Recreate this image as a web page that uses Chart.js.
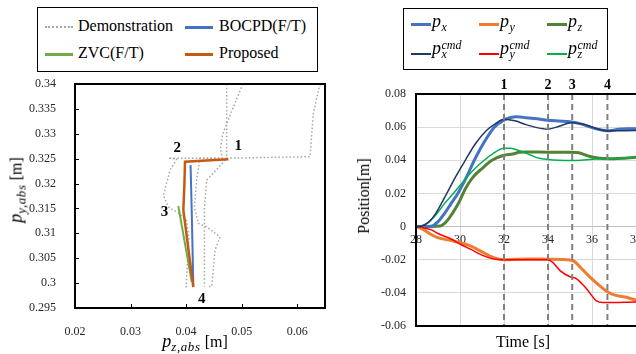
<!DOCTYPE html>
<html><head><meta charset="utf-8">
<script src="https://cdn.jsdelivr.net/npm/chart.js@4.4.1/dist/chart.umd.min.js"></script>
<style>
html,body{margin:0;padding:0;background:#fff;width:636px;height:354px;overflow:hidden;position:relative;font-family:"Liberation Serif","Times New Roman",serif;color:#000}
canvas{position:absolute;top:0}
#cL{left:0}
#cR{left:330px}
.box{position:absolute;border:1.5px solid #000;box-sizing:border-box;background:#fff}
.ln{position:absolute;height:0}
.tx{position:absolute;white-space:nowrap;font-size:16px;line-height:18px}
.it{position:absolute;height:20px;width:40px}
.it .p{position:absolute;left:0;top:0;font-style:italic;font-size:18px;line-height:20px}
.it .sb,.it .sp{position:absolute;left:9.5px;font-style:italic;font-size:12px;line-height:12px;white-space:nowrap}
.it .sb{top:10px}
.it .sp{top:1px}
.ttl{position:absolute;white-space:nowrap;font-size:16px;line-height:20px;transform:translate(-50%,-50%)}
.ttl.rot{transform:translate(-50%,-50%) rotate(-90deg)}
.ttl i{font-size:18px}
.ttl sub{font-style:italic;font-size:13px;letter-spacing:0.6px;vertical-align:-4px;line-height:0}
</style></head>
<body>
<canvas id="cL" width="330" height="354"></canvas>
<canvas id="cR" width="370" height="354"></canvas>
<div id="overlay"></div>
<script>
// ================= LEFT CHART DATA (p_z,abs vs p_y,abs) =================
const demoA_z = [0.0473, 0.0473, 0.0473, 0.0368, 0.0383, 0.0371, 0.0359, 0.0368, 0.0388, 0.0401, 0.0405, 0.0400, 0.0406];
const demoA_y = [0.3400, 0.3330, 0.3251, 0.3251, 0.3249, 0.3227, 0.3176, 0.3153, 0.3140, 0.3125, 0.3090, 0.2993, 0.2993];
const demoB_z = [0.0502, 0.0482, 0.0466, 0.0462, 0.0465, 0.0425, 0.0419, 0.0415, 0.0422, 0.0437, 0.0461, 0.0452, 0.0446, 0.0441];
const demoB_y = [0.3400, 0.3345, 0.3300, 0.3270, 0.3251, 0.3251, 0.3207, 0.3153, 0.3120, 0.3113, 0.3093, 0.3066, 0.2993, 0.2993];
const demoC_z = [0.0641, 0.0629, 0.0623, 0.0473, 0.0454, 0.0437, 0.0433, 0.0433, 0.0433];
const demoC_y = [0.3400, 0.3341, 0.3254, 0.3251, 0.3227, 0.3207, 0.3150, 0.3117, 0.2993];
const bocpd_z = [0.0408, 0.0410, 0.0413];
const bocpd_y = [0.3237, 0.3150, 0.2995];
const zvc_z = [0.0386, 0.0410];
const zvc_y = [0.3155, 0.3003];
const prop_z = [0.0476, 0.0398, 0.0397, 0.0395, 0.0413];
const prop_y = [0.3249, 0.3244, 0.3200, 0.3147, 0.2992];
const leftXTicks = [0.02, 0.03, 0.04, 0.05, 0.06];
const leftYTicks = [0.295, 0.3, 0.305, 0.31, 0.315, 0.32, 0.325, 0.33, 0.335, 0.34];
const phaseLabels = ['1', '2', '3', '4'];
const phaseZ = [0.0494, 0.0384, 0.0361, 0.0428];
const phaseY = [0.3275, 0.3271, 0.3142, 0.2968];
const leftNames = ['Demonstration', 'BOCPD(F/T)', 'ZVC(F/T)', 'Proposed'];

// ================= RIGHT CHART DATA (Position vs Time) =================
const pxT = [28, 28.7, 29.0, 29.3, 29.6, 29.9, 30.3, 30.65, 31.1, 31.56, 32, 32.3, 32.6, 33, 33.5, 34, 34.5, 35, 35.5, 36, 36.5, 36.8, 37.2, 37.6, 38, 39, 40];
const pxV = [0, 0.0002, 0.003, 0.008, 0.014, 0.020, 0.030, 0.040, 0.051, 0.060, 0.0643, 0.0658, 0.0662, 0.0657, 0.065, 0.0642, 0.0637, 0.0632, 0.062, 0.0597, 0.0581, 0.0578, 0.0587, 0.059, 0.059, 0.0588, 0.0588];
const pyT = [28, 28.3, 28.65, 28.95, 29.5, 30.0, 30.5, 30.9, 31.5, 32, 33, 34, 35, 35.2, 35.5, 35.92, 36.3, 36.68, 37.0, 37.6, 38, 39, 40];
const pyV = [0, -0.0015, -0.0045, -0.0065, -0.0082, -0.0097, -0.0118, -0.0145, -0.0186, -0.020, -0.0195, -0.0197, -0.0202, -0.0210, -0.0250, -0.0307, -0.0352, -0.0392, -0.0412, -0.0428, -0.0444, -0.0460, -0.0460];
const pzT = [28, 29.1, 29.3, 29.5, 29.8, 30.0, 30.25, 30.6, 31.0, 31.45, 32, 32.4, 32.7, 33, 34, 35, 35.4, 35.7, 36, 36.5, 37, 37.5, 38, 39, 40];
const pzV = [0, 0.0003, 0.002, 0.005, 0.011, 0.016, 0.023, 0.030, 0.035, 0.040, 0.043, 0.0438, 0.0448, 0.045, 0.0449, 0.0448, 0.0445, 0.0432, 0.042, 0.0411, 0.041, 0.0413, 0.0418, 0.042, 0.042];
const pxCmdT = [28, 28.3, 28.6, 28.9, 29.2, 29.4, 29.8, 30.24, 30.7, 31.2, 31.6, 32, 32.5, 33, 33.5, 34, 34.5, 35.05, 35.6, 36.2, 36.7, 37.2, 38, 39, 40];
const pxCmdV = [0, 0.0005, 0.003, 0.008, 0.015, 0.020, 0.030, 0.040, 0.050, 0.058, 0.062, 0.0648, 0.0638, 0.0615, 0.0597, 0.0588, 0.0605, 0.0627, 0.0618, 0.0592, 0.0577, 0.0578, 0.058, 0.058, 0.058];
const pyCmdT = [28, 28.3, 28.7, 29.0, 29.6, 30.0, 30.5, 31.0, 31.5, 32, 33, 34, 34.2, 34.56, 35.0, 35.3, 35.77, 36.2, 36.5, 37, 38, 39, 40];
const pyCmdV = [0, -0.0005, -0.002, -0.0042, -0.0075, -0.0105, -0.0138, -0.0172, -0.0195, -0.020, -0.020, -0.020, -0.0215, -0.0267, -0.0303, -0.0315, -0.0378, -0.0448, -0.0458, -0.0458, -0.0455, -0.0455, -0.0455];
const pzCmdT = [28, 28.2, 28.5, 28.9, 29.3, 29.7, 30.2, 30.6, 31.1, 31.5, 32, 32.3, 32.7, 33.2, 33.6, 34, 34.5, 35, 35.5, 36, 36.7, 37.5, 38, 39, 40];
const pzCmdV = [0, 0.0003, 0.002, 0.007, 0.014, 0.020, 0.028, 0.034, 0.040, 0.044, 0.0472, 0.0472, 0.0458, 0.0432, 0.0412, 0.0405, 0.040, 0.0398, 0.040, 0.0406, 0.041, 0.0415, 0.0418, 0.042, 0.042];
const eventTimes = [32, 34, 35.1, 36.7];
const eventLabels = ['1', '2', '3', '4'];
const rightXTicks = [28, 30, 32, 34, 36, 38, 40];
const rightYTicks = [-0.06, -0.04, -0.02, 0, 0.02, 0.04, 0.06, 0.08];

// ================= helpers =================
const zip = (a, b) => a.map((v, i) => ({x: v, y: b[i]}));
Chart.defaults.font.family = "'Liberation Serif', 'Times New Roman', serif";
Chart.defaults.font.size = 12;
Chart.defaults.color = '#262626';
Chart.defaults.animation = false;

const C = {demo: '#a6a6a6', bocpd: '#4472c4', zvc: '#70ad47', prop: '#c55a11',
  px: '#4472c4', py: '#ed7d31', pz: '#548235', pxc: '#203864', pyc: '#ff0000', pzc: '#00b050'};

// ================= LEFT CHART =================
const leftDeco = {
  id: 'leftDeco',
  afterDatasetsDraw(chart) {
    const {ctx, chartArea: a, scales: {x, y}} = chart;
    ctx.save();
    ctx.strokeStyle = '#000';
    ctx.lineWidth = 1;
    ctx.beginPath();
    leftXTicks.forEach(v => { const px = Math.round(x.getPixelForValue(v)) + 0.5; ctx.moveTo(px, a.bottom); ctx.lineTo(px, a.bottom - 4); });
    leftYTicks.forEach(v => { const py = Math.round(y.getPixelForValue(v)) + 0.5; ctx.moveTo(a.left, py); ctx.lineTo(a.left + 4, py); });
    ctx.stroke();
    ctx.lineWidth = 2;
    ctx.strokeRect(a.left, a.top, a.right - a.left, a.bottom - a.top);
    ctx.fillStyle = '#000';
    ctx.font = "bold 15px 'Liberation Serif', serif";
    ctx.textAlign = 'center';
    ctx.textBaseline = 'middle';
    phaseLabels.forEach((t, i) => ctx.fillText(t, x.getPixelForValue(phaseZ[i]), y.getPixelForValue(phaseY[i])));
    ctx.restore();
  }
};
const demoStyle = {borderColor: C.demo, borderWidth: 1.5, borderDash: [1.5, 2.2], pointRadius: 0, tension: 0, fill: false};
new Chart(document.getElementById('cL'), {
  type: 'line',
  data: {datasets: [
    {label: leftNames[3], data: zip(prop_z, prop_y), borderColor: C.prop, borderWidth: 2.5, pointRadius: 0, tension: 0},
    {label: leftNames[2], data: zip(zvc_z, zvc_y), borderColor: C.zvc, borderWidth: 2, pointRadius: 0, tension: 0},
    {label: leftNames[1], data: zip(bocpd_z, bocpd_y), borderColor: C.bocpd, borderWidth: 2, pointRadius: 0, tension: 0},
    Object.assign({label: leftNames[0], data: zip(demoA_z, demoA_y)}, demoStyle),
    Object.assign({label: leftNames[0] + ' 2', data: zip(demoB_z, demoB_y)}, demoStyle),
    Object.assign({label: leftNames[0] + ' 3', data: zip(demoC_z, demoC_y)}, demoStyle)
  ]},
  options: {
    responsive: false, devicePixelRatio: 1, animation: false,
    layout: {padding: {top: 84, right: 5, left: 0, bottom: 0}},
    plugins: {legend: {display: false}, tooltip: {enabled: false}},
    scales: {
      x: {type: 'linear', min: 0.02, max: 0.065, grid: {display: false}, border: {display: false},
        ticks: {padding: 9, callback: v => String(v)},
        afterBuildTicks: s => { s.ticks = leftXTicks.map(v => ({value: v})); },
        afterFit: s => { s.height = 46; }},
      y: {type: 'linear', min: 0.295, max: 0.34, grid: {display: false}, border: {display: false},
        ticks: {padding: 11, callback: v => String(v)},
        afterBuildTicks: s => { s.ticks = leftYTicks.map(v => ({value: v})); },
        afterFit: s => { s.width = 75; }}
    }
  },
  plugins: [leftDeco]
});

// ================= RIGHT CHART =================
const rightDeco = {
  id: 'rightDeco',
  afterDatasetsDraw(chart) {
    const {ctx, chartArea: a, scales: {x}} = chart;
    ctx.save();
    ctx.strokeStyle = '#808080';
    ctx.lineWidth = 2;
    ctx.setLineDash([6, 4]);
    eventTimes.forEach(t => { const px = x.getPixelForValue(t); ctx.beginPath(); ctx.moveTo(px, a.top); ctx.lineTo(px, a.bottom); ctx.stroke(); });
    ctx.setLineDash([]);
    ctx.strokeStyle = '#000';
    ctx.lineWidth = 2;
    ctx.beginPath();
    ctx.moveTo(a.right, a.top); ctx.lineTo(a.left, a.top); ctx.lineTo(a.left, a.bottom); ctx.lineTo(a.right, a.bottom);
    ctx.stroke();
    ctx.fillStyle = '#000';
    ctx.font = "bold 14px 'Liberation Serif', serif";
    ctx.textAlign = 'center';
    ctx.textBaseline = 'middle';
    eventTimes.forEach((t, i) => ctx.fillText(eventLabels[i], x.getPixelForValue(t), a.top - 9));
    ctx.restore();
  }
};
const ser = (lab, t, v, col, w) => ({label: lab, data: zip(t, v), borderColor: col, borderWidth: w, pointRadius: 0, cubicInterpolationMode: 'monotone', fill: false});
new Chart(document.getElementById('cR'), {
  type: 'line',
  data: {datasets: [
    ser('px_cmd', pxCmdT, pxCmdV, C.pxc, 1.5),
    ser('py_cmd', pyCmdT, pyCmdV, C.pyc, 1.5),
    ser('pz_cmd', pzCmdT, pzCmdV, C.pzc, 1.5),
    ser('px', pxT, pxV, C.px, 3),
    ser('py', pyT, pyV, C.py, 3),
    ser('pz', pzT, pzV, C.pz, 3)
  ]},
  options: {
    responsive: false, devicePixelRatio: 1, animation: false,
    layout: {padding: {top: 94, right: 20, left: 0, bottom: 28}},
    plugins: {legend: {display: false}, tooltip: {enabled: false}},
    scales: {
      x: {type: 'linear', min: 28, max: 40, position: {y: 0},
        grid: {color: '#d9d9d9', lineWidth: 1, drawTicks: false},
        border: {display: true, color: '#bfbfbf', width: 1},
        ticks: {padding: 6, callback: v => String(v)},
        afterBuildTicks: s => { s.ticks = rightXTicks.map(v => ({value: v})); }},
      y: {type: 'linear', min: -0.06, max: 0.08,
        grid: {color: '#d9d9d9', lineWidth: 1, drawTicks: false},
        border: {display: false},
        ticks: {padding: 10, callback: v => String(v)},
        afterBuildTicks: s => { s.ticks = rightYTicks.map(v => ({value: v})); },
        afterFit: s => { s.width = 86; }}
    }
  },
  plugins: [rightDeco]
});

// ================= HTML legends & axis titles =================
const ov = document.getElementById('overlay');
function add(html) { ov.insertAdjacentHTML('beforeend', html); }
// left legend
add('<div class="box" style="left:37px;top:7px;width:281px;height:65px"></div>');
const leftLeg = [
  {name: leftNames[0], col: C.demo, dotted: true, lx: 45, tx: 78, ly: 27, ty: 17},
  {name: leftNames[1], col: C.bocpd, lx: 185, tx: 219, ly: 27, ty: 17},
  {name: leftNames[2], col: C.zvc, lx: 45, tx: 78, ly: 54, ty: 44},
  {name: leftNames[3], col: C.prop, lx: 185, tx: 219, ly: 54, ty: 44}
];
leftLeg.forEach(it => {
  const b = it.dotted ? `2px dotted ${it.col}` : `3px solid ${it.col}`;
  add(`<div class="ln" style="left:${it.lx}px;top:${it.ly - 1.5}px;width:28px;border-top:${b}"></div>`);
  add(`<div class="tx" style="left:${it.tx}px;top:${it.ty}px">${it.name}</div>`);
});
// right legend
add('<div class="box" style="left:403px;top:8px;width:205px;height:62px"></div>');
const rightLeg = [
  {sub: 'x', col: C.px, w: 3, lx: 411, row: 0}, {sub: 'y', col: C.py, w: 3, lx: 479, row: 0}, {sub: 'z', col: C.pz, w: 3, lx: 547, row: 0},
  {sub: 'x', sup: 'cmd', col: C.pxc, w: 2, lx: 411, row: 1}, {sub: 'y', sup: 'cmd', col: C.pyc, w: 2, lx: 479, row: 1}, {sub: 'z', sup: 'cmd', col: C.pzc, w: 2, lx: 547, row: 1}
];
rightLeg.forEach(it => {
  const ly = it.row ? 54 : 24;
  const top = it.row ? 38 : 10.5;
  add(`<div class="ln" style="left:${it.lx}px;top:${ly - it.w / 2}px;width:20px;border-top:${it.w}px solid ${it.col}"></div>`);
  add(`<div class="it" style="left:${it.lx + 21}px;top:${top}px"><span class="p">p</span>` +
      (it.sup ? `<span class="sp">${it.sup}</span>` : '') + `<span class="sb">${it.sub}</span></div>`);
});
// axis titles
add('<div class="ttl rot" style="left:16px;top:190px"><i>p</i><sub>y,abs</sub> [m]</div>');
add('<div class="ttl" style="left:195px;top:341px"><i>p</i><sub>z,abs</sub> [m]</div>');
add('<div class="ttl rot" style="left:364px;top:196px">Position[m]</div>');
add('<div class="ttl" style="left:523px;top:342px">Time [s]</div>');
</script>
</body></html>
